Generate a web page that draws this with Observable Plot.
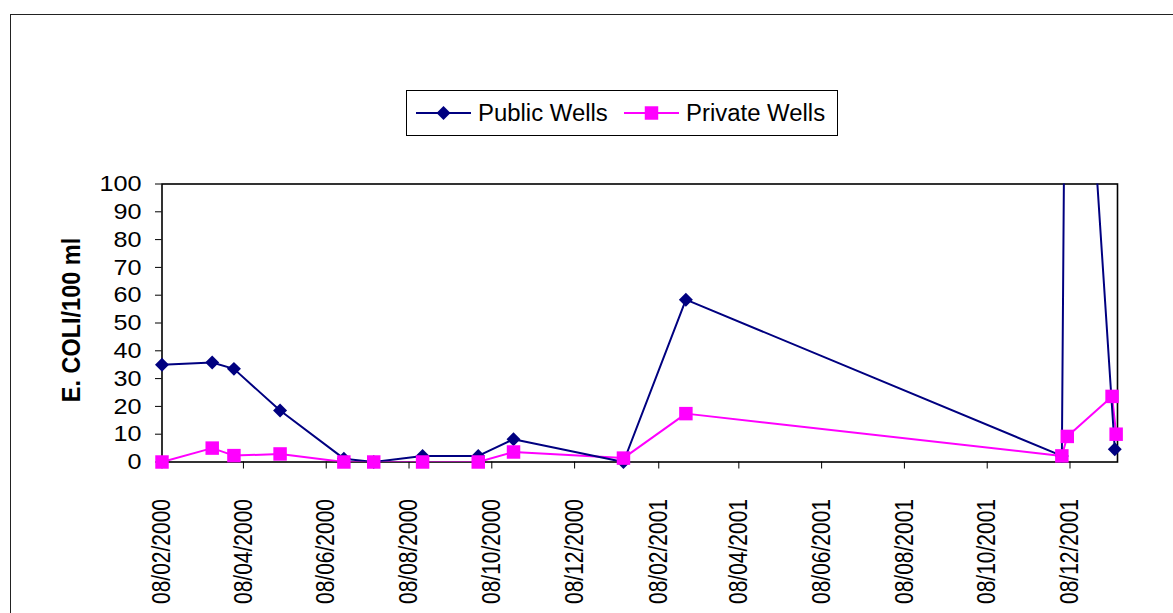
<!DOCTYPE html>
<html><head><meta charset="utf-8">
<script src="https://cdn.jsdelivr.net/npm/d3@7"></script>
<script src="https://cdn.jsdelivr.net/npm/@observablehq/plot@0.6"></script>
<style>
html,body{margin:0;padding:0;background:#fff;}
#wrap{position:relative;width:1173px;height:613px;overflow:hidden;font-family:"Liberation Sans",Arial,sans-serif;}
#outer{position:absolute;left:10px;top:14px;width:1300px;height:800px;border-left:1.5px solid #222;border-top:1.5px solid #222;box-sizing:border-box;}
#chart{position:absolute;left:0;top:0;}
#legend{position:absolute;left:406px;top:90px;width:432px;height:46px;border:1.3px solid #000;box-sizing:border-box;background:#fff;}
</style></head><body>
<div id="wrap"><div id="outer"></div><div id="chart"></div><div id="legend"></div></div>
<script>
// ---- data ----
const seriesNames = ["Public Wells", "Private Wells"];
const seriesColors = ["#000080", "#FF00FF"];
const publicDates  = ["2000-02-08","2000-03-16","2000-04-01","2000-05-05","2000-06-21","2000-07-13","2000-08-18","2000-09-28","2000-10-24","2001-01-13","2001-02-28","2001-12-02","2001-12-06","2002-01-10"];
const publicValues = [35, 35.8, 33.5, 18.5, 1.2, 0, 2.2, 2.2, 8.2, 0, 58.4, 2.2, 265, 4.6];
const privateDates  = ["2000-02-08","2000-03-16","2000-04-01","2000-05-05","2000-06-21","2000-07-13","2000-08-18","2000-09-28","2000-10-24","2001-01-13","2001-02-28","2001-12-02","2001-12-06","2002-01-08","2002-01-11"];
const privateValues = [0, 5, 2.3, 2.9, 0, 0, 0, 0, 3.6, 1.4, 17.4, 2.2, 9.2, 23.6, 10];
const xTickLabels = ["08/02/2000","08/04/2000","08/06/2000","08/08/2000","08/10/2000","08/12/2000","08/02/2001","08/04/2001","08/06/2001","08/08/2001","08/10/2001","08/12/2001"];
const yTicks = [0,10,20,30,40,50,60,70,80,90,100];
const xDomainDates = ["2000-02-08","2002-01-12"];
const yTitle = "E. COLI/100 ml";

const parseISO = d3.utcParse("%Y-%m-%d");
const parseTick = d3.utcParse("%d/%m/%Y");
const pub = publicDates.map((d,i)=>({date:parseISO(d), value:publicValues[i]}));
const priv = privateDates.map((d,i)=>({date:parseISO(d), value:privateValues[i]}));
const tickDates = xTickLabels.map(parseTick);
const tickLabelMap = new Map(tickDates.map((d,i)=>[+d, xTickLabels[i]]));

const chart = Plot.plot({
  width: 1173, height: 613,
  marginLeft: 161.5, marginRight: 56, marginTop: 183.5, marginBottom: 151.5,
  style: {fontFamily: "'Liberation Sans', Arial, sans-serif", fontSize: "22px", color: "#000", background: "transparent", overflow: "visible"},
  x: {type: "utc", domain: xDomainDates.map(parseISO)},
  y: {domain: [0, 100]},
  marks: [
    Plot.axisY({ticks: yTicks, tickSize: 6.5, tickPadding: 14, tickFormat: d => String(d), label: null, fontSize: 22.5, stroke: "#000"}),
    Plot.axisX({ticks: tickDates, tickFormat: d => tickLabelMap.get(+d), tickRotate: -90, tickSize: 7, tickPadding: 30, label: null, fontSize: 21, stroke: "#000"}),
    Plot.frame({stroke: "#000", strokeWidth: 1.6}),
    Plot.line(priv, {x: "date", y: "value", stroke: seriesColors[1], strokeWidth: 2, clip: true}),
    Plot.line(pub, {x: "date", y: "value", stroke: seriesColors[0], strokeWidth: 2, clip: true}),
    Plot.dot(pub.filter(d => d.value <= 100), {x: "date", y: "value", symbol: "diamond2", fill: seriesColors[0], stroke: "none", r: 6.3}),
    Plot.dot(priv, {x: "date", y: "value", symbol: "square", fill: seriesColors[1], stroke: "none", r: 7.6})
  ]
});
document.getElementById("chart").appendChild(chart);

// widen horizontal glyphs slightly (reference text is horizontally stretched)
function stretch(sel, k) {
  sel.each(function() {
    const w = this.getComputedTextLength();
    this.setAttribute("textLength", (w * k).toFixed(1));
    this.setAttribute("lengthAdjust", "spacingAndGlyphs");
  });
}
stretch(d3.select(chart).selectAll('g[aria-label="y-axis tick label"] text'), 1.12);
d3.select(chart).selectAll('g[aria-label="x-axis tick label"] text').each(function() {
  const t = this.getAttribute("transform") || "";
  this.setAttribute("transform", t + " scale(1,1.22)");
});

// y-axis title
d3.select(chart).append("text")
  .attr("transform", "translate(73,320) rotate(-90) scale(1,1.1)")
  .attr("text-anchor", "middle").attr("dominant-baseline", "middle")
  .attr("font-weight", "bold").attr("font-size", 23.5)
  .attr("font-family", "'Liberation Sans', Arial, sans-serif")
  .attr("fill", "#000").text(yTitle);

// legend
const lg = d3.select("#legend").append("svg").attr("width", 430).attr("height", 44)
  .style("position","absolute").style("left","0px").style("top","0px");
const items = [
  {x0: 9, text: seriesNames[0], color: seriesColors[0], sym: d3.symbolDiamond2, size: Math.PI*6.3*6.3, tx: 71},
  {x0: 217, text: seriesNames[1], color: seriesColors[1], sym: d3.symbolSquare, size: Math.PI*7.6*7.6, tx: 279}
];
items.forEach(it => {
  const g = lg.append("g");
  g.append("line").attr("x1", it.x0).attr("x2", it.x0+55).attr("y1", 22).attr("y2", 22).attr("stroke", it.color).attr("stroke-width", 2);
  g.append("path").attr("d", d3.symbol(it.sym, it.size)()).attr("transform", `translate(${it.x0+27.5},22)`).attr("fill", it.color);
  const t = g.append("text").attr("x", it.tx).attr("y", 22).attr("dy", "0.35em").attr("font-size", 23)
    .attr("font-family", "'Liberation Sans', Arial, sans-serif").attr("fill", "#000").text(it.text);
  stretch(t, 1.04);
});
</script>
</body></html>
